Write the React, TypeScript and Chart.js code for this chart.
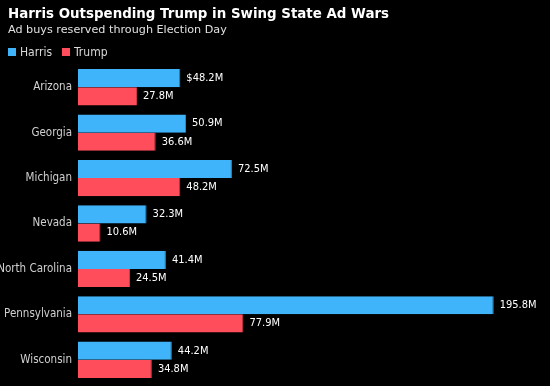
import React, { useEffect, useRef } from "react";
import { Chart, registerables } from "chart.js";

Chart.register(...registerables);

const states = ["Arizona", "Georgia", "Michigan", "Nevada", "North Carolina", "Pennsylvania", "Wisconsin"];
const harris = [48.2, 50.9, 72.5, 32.3, 41.4, 195.8, 44.2];
const trump = [27.8, 36.6, 48.2, 10.6, 24.5, 77.9, 34.8];
const seriesNames = ["Harris", "Trump"];
const seriesColors = ["#40b4fa", "#ff4d5b"];
const seriesBorders = ["#2f8fcc", "#c73a45"];

const FONT = "'DejaVu Sans Condensed', 'DejaVu Sans', Verdana, sans-serif";
const WIDE = "'DejaVu Sans', Verdana, sans-serif";

const valueLabels = {
  id: "valueLabels",
  afterDatasetsDraw(chart: any) {
    const ctx = chart.ctx;
    ctx.save();
    ctx.font = `11px ${FONT}`;
    ctx.fillStyle = "#ffffff";
    ctx.textBaseline = "middle";
    ctx.textAlign = "left";
    chart.data.datasets.forEach((ds: any, di: number) => {
      const meta = chart.getDatasetMeta(di);
      meta.data.forEach((el: any, i: number) => {
        const v = ds.data[i];
        const txt = (di === 0 && i === 0 ? "$" : "") + v.toFixed(1) + "M";
        ctx.fillText(txt, el.x + 6, el.y);
      });
    });
    ctx.restore();
  },
};

export default function App() {
  const ref = useRef<HTMLCanvasElement>(null);
  useEffect(() => {
    document.body.style.margin = "0";
    document.body.style.background = "#000";
    const chart = new Chart(ref.current!, {
      type: "bar",
      data: {
        labels: states,
        datasets: [harris, trump].map((d, i) => ({
          label: seriesNames[i],
          data: d,
          backgroundColor: seriesColors[i],
          borderColor: seriesBorders[i],
          borderWidth: { top: 0, left: 0, bottom: 0, right: 1 },
          categoryPercentage: 0.8,
          barPercentage: 1.0,
        })),
      },
      options: {
        indexAxis: "y",
        animation: false,
        responsive: false,
        maintainAspectRatio: false,
        layout: { padding: { top: 64.5, bottom: 3.5, left: 0, right: 7 } },
        plugins: { legend: { display: false }, title: { display: false }, tooltip: { enabled: false } },
        scales: {
          x: { min: 0, max: 219, display: false },
          y: {
            grid: { display: false, drawTicks: false },
            border: { display: false },
            ticks: { color: "#d0d0d0", font: { family: FONT, size: 11.5 }, padding: 6 },
            afterFit(scale: any) {
              scale.width = 78;
              scale.paddingTop = 0;
              scale.paddingBottom = 0;
            },
          },
        },
      },
      plugins: [valueLabels],
    } as any);
    return () => chart.destroy();
  }, []);

  return (
    <div style={{ position: "fixed", left: 0, top: 0, width: 550, height: 386, background: "#000", overflow: "hidden" }}>
      <canvas ref={ref} width={550} height={386} style={{ position: "absolute", left: 0, top: 0 }} />
      <div style={{ position: "absolute", left: 8, top: 6, color: "#fff", fontFamily: WIDE, fontWeight: "bold", fontSize: 13.4, whiteSpace: "nowrap" }}>
        Harris Outspending Trump in Swing State Ad Wars
      </div>
      <div style={{ position: "absolute", left: 8, top: 23, color: "#e0e0e0", fontFamily: WIDE, fontSize: 11.2, whiteSpace: "nowrap" }}>
        Ad buys reserved through Election Day
      </div>
      <div style={{ position: "absolute", left: 8, top: 45, display: "flex", alignItems: "center", color: "#d8d8d8", fontFamily: FONT, fontSize: 12 }}>
        {seriesNames.map((n, i) => (
          <span key={n} style={{ display: "flex", alignItems: "center", marginRight: 10 }}>
            <span style={{ display: "inline-block", width: 8, height: 8, background: seriesColors[i], marginRight: 4 }} />
            {n}
          </span>
        ))}
      </div>
    </div>
  );
}
